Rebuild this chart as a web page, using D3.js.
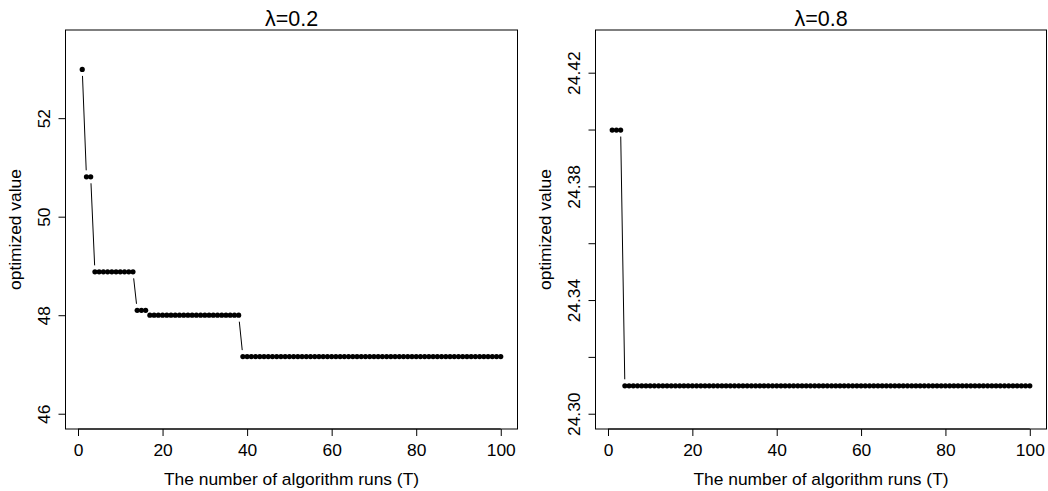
<!DOCTYPE html>
<html>
<head>
<meta charset="utf-8">
<script src="https://cdn.jsdelivr.net/npm/d3@7"></script>
<style>
  html, body { margin: 0; padding: 0; background: #fff; }
  svg { display: block; font-family: "Liberation Sans", Arial, Helvetica, sans-serif; }
</style>
</head>
<body>
<svg id="chart" width="1048" height="491"></svg>
<script>
// ---- data ----
const runs = d3.range(1, 101);
const titles = ["λ=0.2", "λ=0.8"];
const xLabel = "The number of algorithm runs (T)";
const yLabel = "optimized value";
const xTicks = [0, 20, 40, 60, 80, 100];

const valuesLambda02 = [
  53.00, 50.82, 50.82,
  48.89, 48.89, 48.89, 48.89, 48.89, 48.89, 48.89, 48.89, 48.89, 48.89,
  48.11, 48.11, 48.11,
  48.01, 48.01, 48.01, 48.01, 48.01, 48.01, 48.01, 48.01, 48.01, 48.01, 48.01,
  48.01, 48.01, 48.01, 48.01, 48.01, 48.01, 48.01, 48.01, 48.01, 48.01, 48.01,
  47.17, 47.17, 47.17, 47.17, 47.17, 47.17, 47.17, 47.17, 47.17, 47.17,
  47.17, 47.17, 47.17, 47.17, 47.17, 47.17, 47.17, 47.17, 47.17, 47.17,
  47.17, 47.17, 47.17, 47.17, 47.17, 47.17, 47.17, 47.17, 47.17, 47.17,
  47.17, 47.17, 47.17, 47.17, 47.17, 47.17, 47.17, 47.17, 47.17, 47.17,
  47.17, 47.17, 47.17, 47.17, 47.17, 47.17, 47.17, 47.17, 47.17, 47.17,
  47.17, 47.17, 47.17, 47.17, 47.17, 47.17, 47.17, 47.17, 47.17, 47.17,
  47.17, 47.17
];
const valuesLambda08 = [
  24.40, 24.40, 24.40,
  24.31, 24.31, 24.31, 24.31, 24.31, 24.31, 24.31, 24.31, 24.31, 24.31,
  24.31, 24.31, 24.31, 24.31, 24.31, 24.31, 24.31, 24.31, 24.31, 24.31,
  24.31, 24.31, 24.31, 24.31, 24.31, 24.31, 24.31, 24.31, 24.31, 24.31,
  24.31, 24.31, 24.31, 24.31, 24.31, 24.31, 24.31, 24.31, 24.31, 24.31,
  24.31, 24.31, 24.31, 24.31, 24.31, 24.31, 24.31, 24.31, 24.31, 24.31,
  24.31, 24.31, 24.31, 24.31, 24.31, 24.31, 24.31, 24.31, 24.31, 24.31,
  24.31, 24.31, 24.31, 24.31, 24.31, 24.31, 24.31, 24.31, 24.31, 24.31,
  24.31, 24.31, 24.31, 24.31, 24.31, 24.31, 24.31, 24.31, 24.31, 24.31,
  24.31, 24.31, 24.31, 24.31, 24.31, 24.31, 24.31, 24.31, 24.31, 24.31,
  24.31, 24.31, 24.31, 24.31, 24.31, 24.31, 24.31
];
const yLimLambda02 = [46, 53.5];
const yLimLambda08 = [24.30, 24.43];
const yTicksLambda02 = [46, 48, 50, 52];
const yTickLabelsLambda02 = ["46", "48", "50", "52"];
const yTicksLambda08 = [24.30, 24.32, 24.34, 24.36, 24.38, 24.40, 24.42];
const yTickLabelsLambda08 = ["24.30", "", "24.34", "", "24.38", "", "24.42"];

// ---- drawing ----
const svg = d3.select("#chart");
const TOP = 30, BOTTOM = 429;
const FS = 17.4, FS_TITLE = 21.5, TICK = 7, GAP = 6.5, R = 2.6;

function ext(lim) { const d = (lim[1] - lim[0]) * 0.04; return [lim[0] - d, lim[1] + d]; }

function panel(left, right, title, values, yLim, yTicks, yTickLabels) {
  const x = d3.scaleLinear().domain(ext([1, 100])).range([left, right]);
  const y = d3.scaleLinear().domain(ext(yLim)).range([BOTTOM, TOP]);
  const g = svg.append("g");

  // box
  g.append("rect").attr("x", left).attr("y", TOP)
    .attr("width", right - left).attr("height", BOTTOM - TOP)
    .attr("fill", "none").attr("stroke", "#000").attr("stroke-width", 1);

  // x axis
  const xa = g.append("g").attr("transform", `translate(0,${BOTTOM})`)
    .call(d3.axisBottom(x).tickValues(xTicks).tickSize(TICK).tickPadding(6).tickFormat(d3.format("d")));
  xa.select(".domain").attr("d", `M${x(xTicks[0])},0H${x(xTicks[xTicks.length - 1])}`).attr("stroke", "#000");
  xa.selectAll("line").attr("stroke", "#000");
  xa.selectAll("text").attr("font-size", FS).attr("font-family", null).attr("fill", "#000")
    .attr("dy", null).attr("y", 27);

  // y axis
  const ya = g.append("g").attr("transform", `translate(${left},0)`)
    .call(d3.axisLeft(y).tickValues(yTicks).tickSize(TICK).tickFormat((d, i) => yTickLabels[i]));
  ya.select(".domain").attr("d", `M0,${y(yTicks[0])}V${y(yTicks[yTicks.length - 1])}`).attr("stroke", "#000");
  ya.selectAll("line").attr("stroke", "#000");
  ya.selectAll("text").attr("font-size", FS).attr("font-family", null).attr("fill", "#000")
    .attr("x", null).attr("dy", null).attr("text-anchor", "middle")
    .attr("transform", d => `translate(-15.5,${y(d)}) rotate(-90)`)
    .attr("y", 0);
  ya.selectAll(".tick").attr("transform", null);
  ya.selectAll(".tick line").attr("transform", d => `translate(0,${y(d)})`);

  // titles
  g.append("text").attr("x", (left + right) / 2).attr("y", 26)
    .attr("text-anchor", "middle").attr("font-size", FS_TITLE).text(title);
  g.append("text").attr("x", (left + right) / 2).attr("y", 484.5)
    .attr("text-anchor", "middle").attr("font-size", FS).text(xLabel);
  g.append("text").attr("transform", `translate(${left - 44.5},${(TOP + BOTTOM) / 2}) rotate(-90)`)
    .attr("text-anchor", "middle").attr("font-size", FS).text(yLabel);

  // type="b" line segments with gaps around points
  const pts = runs.map((r, i) => [x(r), y(values[i])]);
  const segs = [];
  for (let i = 0; i < pts.length - 1; i++) {
    const [x0, y0] = pts[i], [x1, y1] = pts[i + 1];
    const dx = x1 - x0, dy = y1 - y0, d = Math.hypot(dx, dy);
    if (d > 2 * GAP) {
      segs.push([x0 + GAP * dx / d, y0 + GAP * dy / d, x1 - GAP * dx / d, y1 - GAP * dy / d]);
    }
  }
  g.selectAll("line.seg").data(segs).join("line").attr("class", "seg")
    .attr("x1", d => d[0]).attr("y1", d => d[1]).attr("x2", d => d[2]).attr("y2", d => d[3])
    .attr("stroke", "#000").attr("stroke-width", 1);

  g.selectAll("circle.pt").data(pts).join("circle").attr("class", "pt")
    .attr("cx", d => d[0]).attr("cy", d => d[1]).attr("r", R).attr("fill", "#000");
}

panel(65.5, 517.5, titles[0], valuesLambda02, yLimLambda02, yTicksLambda02, yTickLabelsLambda02);
panel(595.5, 1046.5, titles[1], valuesLambda08, yLimLambda08, yTicksLambda08, yTickLabelsLambda08);
</script>
</body>
</html>
